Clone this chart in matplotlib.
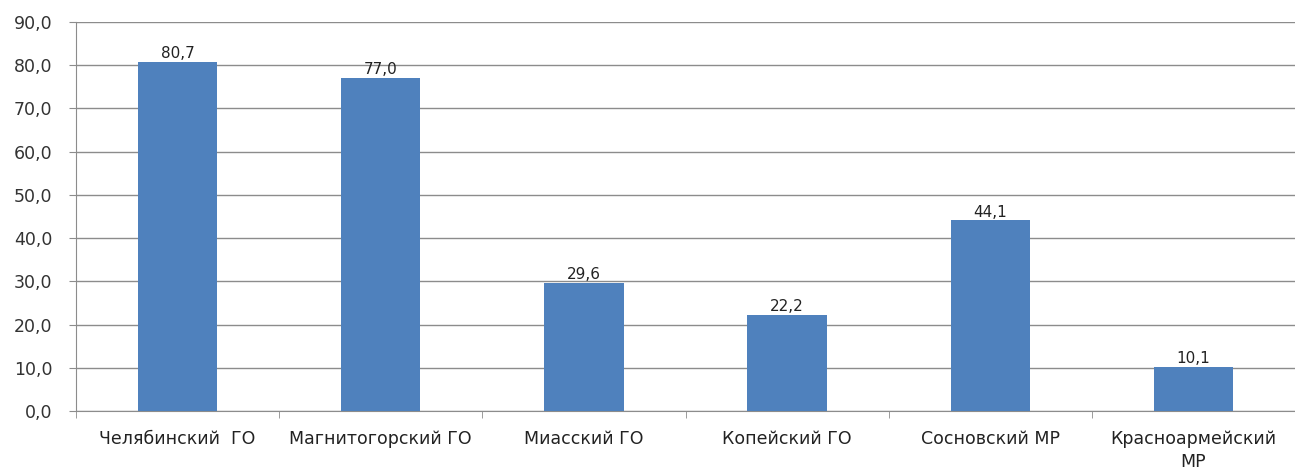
import matplotlib.pyplot as plt
import numpy as np

categories = ["Челябинский  ГО", "Магнитогорский ГО", "Миасский ГО",
              "Копейский ГО", "Сосновский МР", "Красноармейский\nМР"]
values = [80.7, 77.0, 29.6, 22.2, 44.1, 10.1]
yticks = [0, 10, 20, 30, 40, 50, 60, 70, 80, 90]

bar_color = "#4F81BD"
grid_color = "#8C8C8C"

fig = plt.figure(figsize=(12.95, 4.74), dpi=100)
ax = fig.add_axes([0.0587, 0.1329, 0.9413, 0.8207])

x = np.arange(len(categories))
ax.bar(x, values, width=0.39, color=bar_color, zorder=3)

for xi, v in zip(x, values):
    ax.text(xi, v + 0.2, f"{v:.1f}".replace(".", ","), ha="center", va="bottom",
            fontsize=11, color="#222222", zorder=4)

ax.set_ylim(0, 90)
ax.set_xlim(-0.5, 5.475)
ax.set_yticks(yticks)
ax.set_yticklabels([f"{t:.1f}".replace(".", ",") for t in yticks], fontsize=12.5, color="#333333")
ax.yaxis.grid(True, color=grid_color, linewidth=1.0, zorder=0)

# category labels centred under bars, ticks on the boundaries
ax.set_xticks(x)
ax.set_xticklabels(categories, fontsize=12.5, color="#222222", linespacing=1.35)
ax.tick_params(axis="x", length=0, pad=14)
ax.set_xticks(np.arange(-0.5, len(categories), 1.0), minor=True)
ax.tick_params(axis="x", which="minor", length=5, color=grid_color, direction="out")
ax.tick_params(axis="y", length=5, color=grid_color, direction="out", pad=12)

for side in ["top", "right"]:
    ax.spines[side].set_visible(False)
ax.spines["left"].set_color(grid_color)
ax.spines["bottom"].set_color(grid_color)

fig.savefig("out.png", dpi=100, facecolor="white")
